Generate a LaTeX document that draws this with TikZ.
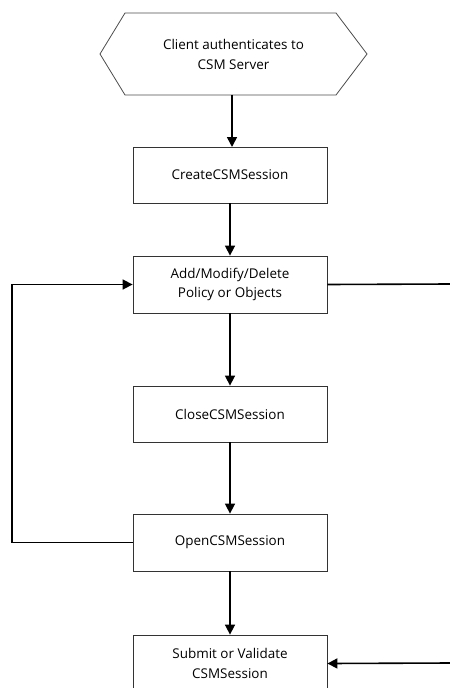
\documentclass[tikz,border=0pt]{standalone}
\usepackage{fontspec}
\setmainfont{Open Sans}
\usetikzlibrary{arrows.meta}
\begin{document}
\begin{tikzpicture}[x=1bp,y=-1bp,
  font=\fontsize{13.5}{20}\selectfont,
  stepbox/.style={draw=black!80,line width=0.8bp,minimum width=194bp,inner sep=0pt,align=center,fill=white},
  conn/.style={line width=1.6bp,-{Triangle[length=10bp,width=10bp]}},
  plainline/.style={line width=1.6bp}]
\useasboundingbox (0,0) rectangle (450,688);
\clip (0,0) rectangle (450,688);
\node[minimum width=267bp,minimum height=82bp,inner sep=0pt,align=center] (hex) at (233.5,54) {Client authenticates to\\CSM Server};
\draw[draw=black!70,line width=0.8bp] (125,13) -- (336,13) -- (367,54) -- (336,95) -- (125,95) -- (100,54) -- cycle;
\node[stepbox,minimum height=56bp] (create) at (230,175) {CreateCSMSession};
\node[stepbox,minimum height=57bp] (add) at (230,284.5) {Add/Modify/Delete\\Policy or Objects};
\node[stepbox,minimum height=56bp] (close) at (230,414) {CloseCSMSession};
\node[stepbox,minimum height=57bp] (open) at (230,542.5) {OpenCSMSession};
\node[stepbox,minimum height=57bp] (submit) at (230,663.5) {Submit or Validate\\CSMSession};
\coordinate (leftc) at (12,542);
\coordinate (rightc) at (450,284);
\coordinate (rightd) at (450,663);
\draw[conn] (232,95) -- (232,147);
\draw[conn] (create) -- (add);
\draw[conn] (add) -- (close);
\draw[conn] (close) -- (open);
\draw[conn] (open) -- (submit);
\draw[conn] (open.west) -| (leftc) |- (add.west);
\draw[plainline] (add.east) -- (rightc);
\draw[conn] (rightd) -- (submit.east);
\end{tikzpicture}
\end{document}
